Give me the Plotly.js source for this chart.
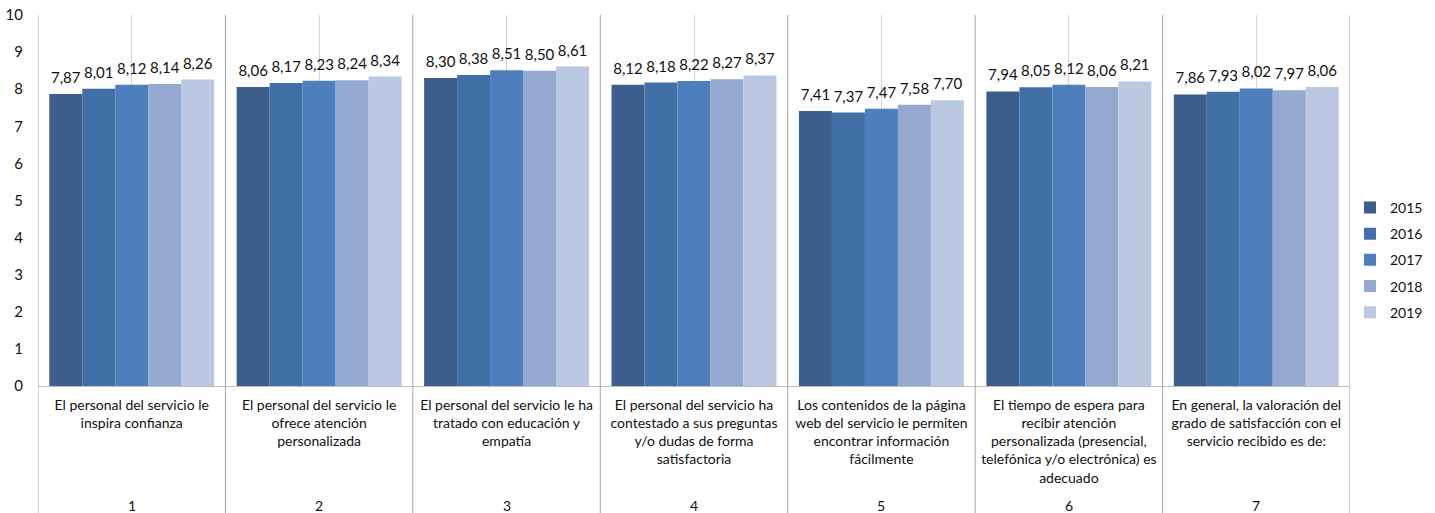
<!DOCTYPE html>
<html>
<head>
<meta charset="utf-8">
<script src="https://cdn.plot.ly/plotly-3.0.1.min.js"></script>
<style>html,body{margin:0;padding:0;background:#fff;}#chart{width:1435px;height:513px;}</style>
</head>
<body>
<div id="chart"></div>
<script>
var categories = [
  "El personal del servicio le<br>inspira confianza",
  "El personal del servicio le<br>ofrece atención<br>personalizada",
  "El personal del servicio le ha<br>tratado con educación y<br>empatía",
  "El personal del servicio ha<br>contestado a sus preguntas<br>y/o dudas de forma<br>satisfactoria",
  "Los contenidos de la página<br>web del servicio le permiten<br>encontrar información<br>fácilmente",
  "El tiempo de espera para<br>recibir atención<br>personalizada (presencial,<br>telefónica y/o electrónica) es<br>adecuado",
  "En general, la valoración del<br>grado de satisfacción con el<br>servicio recibido es de:"
];
var groupNumbers = ["1", "2", "3", "4", "5", "6", "7"];
var years = ["2015", "2016", "2017", "2018", "2019"];
var v2015 = [7.87, 8.06, 8.30, 8.12, 7.41, 7.94, 7.86];
var v2016 = [8.01, 8.17, 8.38, 8.18, 7.37, 8.05, 7.93];
var v2017 = [8.12, 8.23, 8.51, 8.22, 7.47, 8.12, 8.02];
var v2018 = [8.14, 8.24, 8.50, 8.27, 7.58, 8.06, 7.97];
var v2019 = [8.26, 8.34, 8.61, 8.37, 7.70, 8.21, 8.06];
var colors = ["#3b5e8c", "#4170a7", "#4d7fbd", "#95a9d0", "#bbc8e2"];
var series = [v2015, v2016, v2017, v2018, v2019];

var FONT = "Lato, 'Open Sans', sans-serif";
var xIdx = categories.map(function(c, i){ return i; });
function fmt(v){ return v.toFixed(2).replace(".", ","); }

var traces = [];
series.forEach(function(vals, k){
  traces.push({
    type: "bar",
    name: years[k],
    legendgroup: years[k],
    offsetgroup: years[k],
    x: xIdx,
    y: vals,
    marker: {color: colors[k], line: {width: 0}},
    hoverinfo: "skip"
  });
});
series.forEach(function(vals, k){
  traces.push({
    type: "scatter",
    mode: "markers+text",
    name: years[k] + " etiquetas",
    legendgroup: years[k],
    offsetgroup: years[k],
    showlegend: false,
    x: xIdx,
    y: vals,
    text: vals.map(fmt),
    textposition: "top center",
    marker: {size: 10, opacity: 0, color: colors[k]},
    cliponaxis: false,
    textfont: {family: FONT, size: 15, color: "#111"},
    hoverinfo: "skip"
  });
});

var shapes = [];
for (var i = 0; i <= categories.length; i++) {
  shapes.push({type: "line", xref: "x", yref: "paper", x0: i - 0.5, x1: i - 0.5,
    y0: -0.345, y1: 1, line: {color: "#a6a6a6", width: 1}});
}
var annotations = groupNumbers.map(function(g, i){
  return {xref: "x", yref: "paper", x: i, y: -0.322, text: g, showarrow: false,
    font: {family: FONT, size: 14, color: "#111"}, yanchor: "middle"};
});

var layout = {
  width: 1435, height: 513,
  margin: {l: 38, r: 85, t: 15, b: 127, autoexpand: false},
  paper_bgcolor: "#fff", plot_bgcolor: "#fff",
  font: {family: FONT, color: "#111"},
  barmode: "group",
  bargap: 0.12,
  bargroupgap: 0,
  scattermode: "group",
  scattergap: 0.12,
  showlegend: true,
  legend: {x: 1.0, xanchor: "left", y: 0.34, yanchor: "middle",
    font: {family: FONT, size: 14, color: "#111"}, tracegroupgap: 5,
    itemwidth: 30, bgcolor: "rgba(0,0,0,0)"},
  xaxis: {
    type: "linear",
    range: [-0.5, categories.length - 0.5],
    tickmode: "array", tickvals: xIdx, ticktext: categories,
    ticks: "", showgrid: true, gridcolor: "#d4d4d4", gridwidth: 1,
    zeroline: false, showline: true, linecolor: "#bfbfbf", linewidth: 1,
    tickfont: {family: FONT, size: 14, color: "#111"},
    ticklabelstandoff: 6,
    tickangle: 0, automargin: false
  },
  yaxis: {
    range: [0, 10], dtick: 1, tick0: 0, showgrid: false, zeroline: false,
    showline: false, ticks: "", ticklabelstandoff: 14,
    tickfont: {family: FONT, size: 15, color: "#111"}, automargin: false
  },
  shapes: shapes,
  annotations: annotations
};

Plotly.newPlot("chart", traces, layout, {displayModeBar: false, staticPlot: true});
</script>
</body>
</html>
